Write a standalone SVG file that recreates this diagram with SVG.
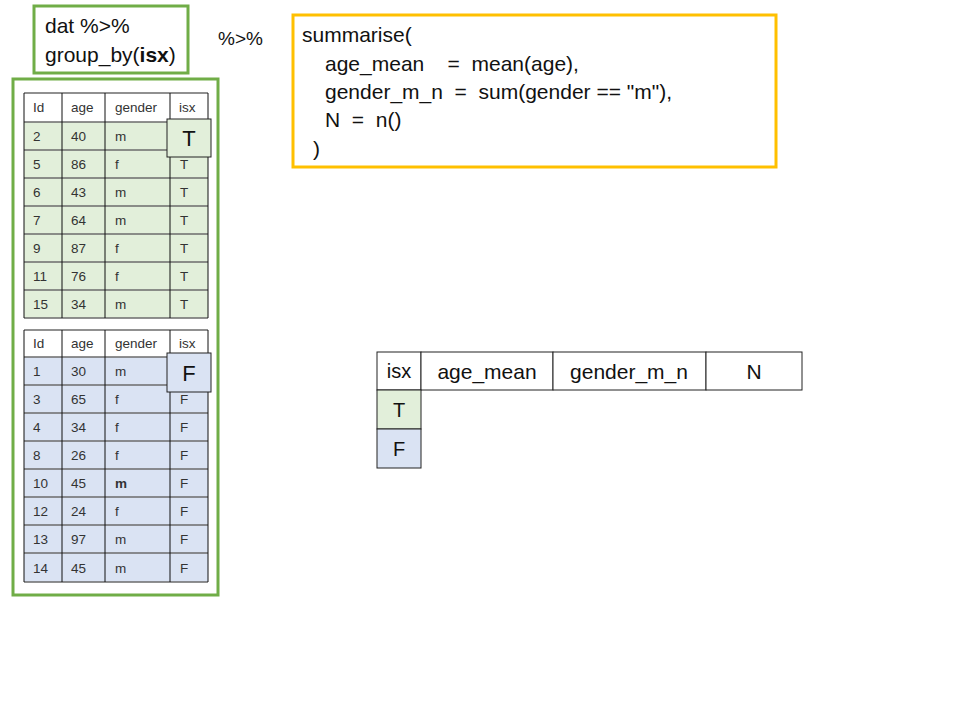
<svg xmlns="http://www.w3.org/2000/svg" width="960" height="720" viewBox="0 0 960 720">
<style>
text{font-family:"Liberation Sans",Arial,sans-serif;white-space:pre}
.t{font-size:13.5px;fill:#333}
.code{font-size:21px;fill:#111}
.g{fill:#E2EFDA}
.b{fill:#DAE3F3}
.w{fill:#fff}
.hl{stroke:#6b6b6b;stroke-width:1.5}
.vl{stroke:#111;stroke-width:1}
.box{fill:none;stroke-width:3}
.cell{stroke:#222;stroke-width:1}
.big{font-size:21px;fill:#111}
</style>
<rect width="960" height="720" fill="#fff"/>

<g id="groupby-label">
<rect class="box" x="34" y="6" width="154" height="67" stroke="#70AD47" fill="#fff"/>
<text class="code" x="45" y="33">dat %&gt;%</text>
<text class="code" x="45" y="62">group_by(<tspan font-weight="bold">isx</tspan>)</text>
</g>

<g id="pipe">
<text class="code" x="218" y="45" style="font-size:19px">%&gt;%</text>
</g>

<g id="summarise-code">
<rect class="box" x="293" y="15" width="483" height="152" stroke="#FFC000" fill="#fff"/>
<text class="code" x="302" y="42">summarise(</text>
<text class="code" x="325" y="71">age_mean    =  mean(age),</text>
<text class="code" x="325" y="99">gender_m_n  =  sum(gender == "m"),</text>
<text class="code" x="325" y="127">N  =  n()</text>
<text class="code" x="313" y="156">)</text>
</g>

<g id="grouped-data">
<rect class="box" x="13" y="79" width="205" height="516" stroke="#70AD47" fill="#fff"/>

<g id="table-T">
<rect class="w" x="24" y="93" width="184" height="29"/>
<rect class="g" x="24" y="122" width="184" height="196"/>
<g class="hl">
<line x1="24" y1="93" x2="208" y2="93"/>
<line x1="24" y1="122" x2="208" y2="122"/>
<line x1="24" y1="150" x2="208" y2="150"/>
<line x1="24" y1="178" x2="208" y2="178"/>
<line x1="24" y1="206" x2="208" y2="206"/>
<line x1="24" y1="234" x2="208" y2="234"/>
<line x1="24" y1="262" x2="208" y2="262"/>
<line x1="24" y1="290" x2="208" y2="290"/>
<line x1="24" y1="318" x2="208" y2="318"/>
</g>
<g class="vl">
<line x1="24" y1="93" x2="24" y2="318"/>
<line x1="62" y1="93" x2="62" y2="318"/>
<line x1="105" y1="93" x2="105" y2="318"/>
<line x1="170" y1="93" x2="170" y2="318"/>
<line x1="208" y1="93" x2="208" y2="318"/>
</g>
<g class="t">
<text x="33" y="112">Id</text><text x="71" y="112">age</text><text x="115" y="112">gender</text><text x="179" y="112">isx</text>
<text x="33" y="141">2</text><text x="71" y="141">40</text><text x="115" y="141">m</text>
<text x="33" y="169">5</text><text x="71" y="169">86</text><text x="115" y="169">f</text><text x="180" y="169">T</text>
<text x="33" y="197">6</text><text x="71" y="197">43</text><text x="115" y="197">m</text><text x="180" y="197">T</text>
<text x="33" y="225">7</text><text x="71" y="225">64</text><text x="115" y="225">m</text><text x="180" y="225">T</text>
<text x="33" y="253">9</text><text x="71" y="253">87</text><text x="115" y="253">f</text><text x="180" y="253">T</text>
<text x="33" y="281">11</text><text x="71" y="281">76</text><text x="115" y="281">f</text><text x="180" y="281">T</text>
<text x="33" y="309">15</text><text x="71" y="309">34</text><text x="115" y="309">m</text><text x="180" y="309">T</text>
</g>
<rect class="g cell" x="167" y="119" width="44" height="38"/>
<text class="big" x="189" y="146" text-anchor="middle" style="font-size:22px">T</text>
</g>

<g id="table-F">
<rect class="w" x="24" y="330" width="184" height="27"/>
<rect class="b" x="24" y="357" width="184" height="225"/>
<g class="hl">
<line x1="24" y1="330" x2="208" y2="330"/>
<line x1="24" y1="357" x2="208" y2="357"/>
<line x1="24" y1="385" x2="208" y2="385"/>
<line x1="24" y1="413" x2="208" y2="413"/>
<line x1="24" y1="441" x2="208" y2="441"/>
<line x1="24" y1="469" x2="208" y2="469"/>
<line x1="24" y1="497" x2="208" y2="497"/>
<line x1="24" y1="525" x2="208" y2="525"/>
<line x1="24" y1="553" x2="208" y2="553"/>
<line x1="24" y1="582" x2="208" y2="582"/>
</g>
<g class="vl">
<line x1="24" y1="330" x2="24" y2="582"/>
<line x1="62" y1="330" x2="62" y2="582"/>
<line x1="105" y1="330" x2="105" y2="582"/>
<line x1="170" y1="330" x2="170" y2="582"/>
<line x1="208" y1="330" x2="208" y2="582"/>
</g>
<g class="t">
<text x="33" y="348">Id</text><text x="71" y="348">age</text><text x="115" y="348">gender</text><text x="179" y="348">isx</text>
<text x="33" y="376">1</text><text x="71" y="376">30</text><text x="115" y="376">m</text>
<text x="33" y="404">3</text><text x="71" y="404">65</text><text x="115" y="404">f</text><text x="180" y="404">F</text>
<text x="33" y="432">4</text><text x="71" y="432">34</text><text x="115" y="432">f</text><text x="180" y="432">F</text>
<text x="33" y="460">8</text><text x="71" y="460">26</text><text x="115" y="460">f</text><text x="180" y="460">F</text>
<text x="33" y="488">10</text><text x="71" y="488">45</text><text x="115" y="488" font-weight="bold">m</text><text x="180" y="488">F</text>
<text x="33" y="516">12</text><text x="71" y="516">24</text><text x="115" y="516">f</text><text x="180" y="516">F</text>
<text x="33" y="544">13</text><text x="71" y="544">97</text><text x="115" y="544">m</text><text x="180" y="544">F</text>
<text x="33" y="573">14</text><text x="71" y="573">45</text><text x="115" y="573">m</text><text x="180" y="573">F</text>
</g>
<rect class="b cell" x="167" y="353" width="44" height="39"/>
<text class="big" x="189" y="381" text-anchor="middle" style="font-size:22px">F</text>
</g>
</g>

<g id="result-table">
<rect class="w cell" x="377" y="352" width="44" height="38"/>
<rect class="w cell" x="421" y="352" width="132" height="38"/>
<rect class="w cell" x="553" y="352" width="153" height="38"/>
<rect class="w cell" x="706" y="352" width="96" height="38"/>
<rect class="g cell" x="377" y="390" width="44" height="39"/>
<rect class="b cell" x="377" y="429" width="44" height="39"/>
<text class="big" x="399" y="378" text-anchor="middle" style="font-size:20px">isx</text>
<text class="big" x="487" y="379" text-anchor="middle">age_mean</text>
<text class="big" x="629" y="379" text-anchor="middle">gender_m_n</text>
<text class="big" x="754" y="379" text-anchor="middle">N</text>
<text class="big" x="399" y="417" text-anchor="middle" style="font-size:20px">T</text>
<text class="big" x="399" y="456" text-anchor="middle" style="font-size:20px">F</text>
</g>
</svg>
